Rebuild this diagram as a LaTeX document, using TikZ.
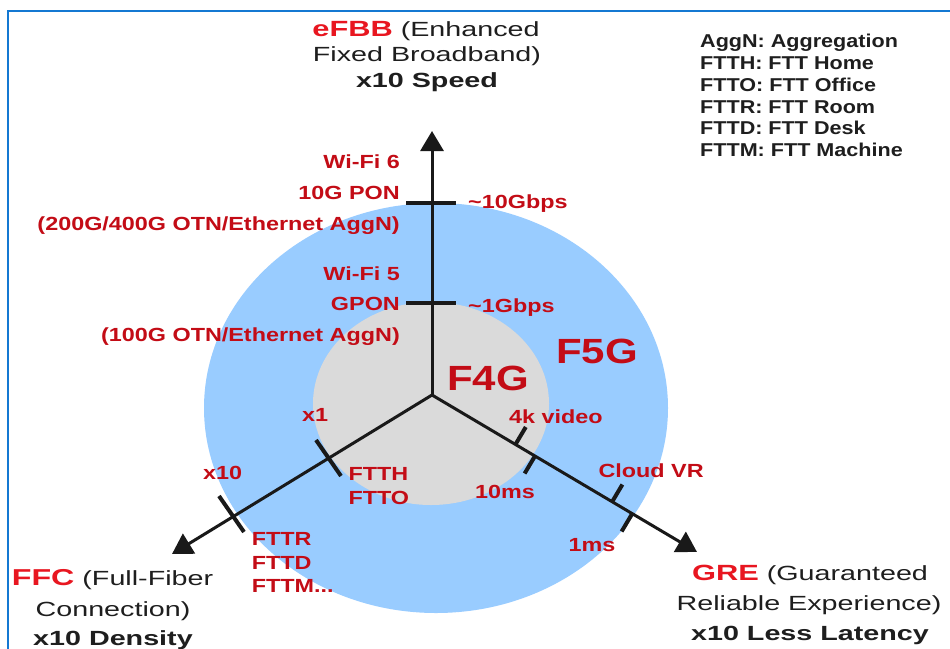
\documentclass[tikz,border=0pt]{standalone}
\usepackage{fontspec}
\setmainfont{Liberation Sans}
\newfontfamily\lblfont[FakeStretch=1.23]{Liberation Sans}
\newfontfamily\ttlfont[FakeStretch=1.4]{Liberation Sans}
\newfontfamily\legfont[FakeStretch=1.16]{Liberation Sans}
\newfontfamily\bigfont[FakeStretch=1.2]{Liberation Sans}
\usetikzlibrary{arrows.meta}
\definecolor{labelred}{RGB}{195,12,22}
\definecolor{brightred}{RGB}{232,22,32}
\definecolor{ringblue}{RGB}{153,204,255}
\definecolor{coregrey}{RGB}{218,218,218}
\definecolor{framebl}{RGB}{20,120,210}
\definecolor{axisc}{RGB}{25,25,25}
\definecolor{txt}{RGB}{30,30,30}
\tikzset{
  lbl/.style={font=\lblfont\bfseries\fontsize{19}{22}\selectfont, text=labelred, inner sep=0pt},
  big/.style={font=\bigfont\bfseries\fontsize{35}{40}\selectfont, text=labelred, inner sep=0pt},
  ttl/.style={font=\ttlfont\fontsize{20.5}{24}\selectfont, text=txt, inner sep=0pt},
  leg/.style={font=\legfont\bfseries\fontsize{18.6}{22}\selectfont, text=txt, inner sep=0pt},
  arm/.style={draw=axisc, line width=3pt, -{Triangle[width=23pt,length=20pt]}},
  tick/.style={draw=axisc, line width=4pt},
}
\begin{document}
\begin{tikzpicture}[x=1pt,y=-1pt]
\useasboundingbox (0,0) rectangle (950,648);
\clip (0,0) rectangle (950,648);
\fill[white] (0,0) rectangle (950,648);
\draw[framebl, line width=2.5pt] (8,11) rectangle (990,690);
% rings
\fill[ringblue] (436,408) ellipse [x radius=232, y radius=205];
\fill[coregrey] (431,403.5) ellipse [x radius=118, y radius=101.5];
% axes
\coordinate (O) at (432,395);
\coordinate (Ttop) at (432,131);
\coordinate (Tl) at (172,554);
\coordinate (Tr) at (697,552);
\draw[arm] (O) -- (Ttop);
\draw[arm] (O) -- (Tl);
\draw[arm] (O) -- (Tr);
% ticks top
\coordinate (a1) at (406,203); \coordinate (a2) at (456,203);
\coordinate (b1) at (406,303); \coordinate (b2) at (456,303);
\draw[tick] (a1) -- (a2);
\draw[tick] (b1) -- (b2);
% ticks left
\coordinate (c1) at (316,440); \coordinate (c2) at (341,476);
\coordinate (d1) at (219,496); \coordinate (d2) at (244,532);
\draw[tick] (c1) -- (c2);
\draw[tick] (d1) -- (d2);
% ticks right (half)
\coordinate (e1) at (515.4,444.5); \coordinate (e2) at (525.8,427);
\coordinate (f1) at (535,456); \coordinate (f2) at (524.6,473.5);
\coordinate (g1) at (612,502); \coordinate (g2) at (622.4,484.5);
\coordinate (h1) at (632,514); \coordinate (h2) at (621.6,531.5);
\draw[tick] (e1) -- (e2);
\draw[tick] (f1) -- (f2);
\draw[tick] (g1) -- (g2);
\draw[tick] (h1) -- (h2);
% top-left labels
\node[lbl, anchor=base east] (wf6) at (400,168.3) {Wi-Fi 6};
\node[lbl, anchor=base east] (pon10) at (400,199.3) {10G PON};
\node[lbl, anchor=base east] (otn4) at (400,230.7) {(200G/400G OTN/Ethernet AggN)};
\node[lbl, anchor=base east] (wf5) at (400,280) {Wi-Fi 5};
\node[lbl, anchor=base east] (gpon) at (400,310) {GPON};
\node[lbl, anchor=base east] (otn1) at (400,341.7) {(100G OTN/Ethernet AggN)};
\node[lbl, anchor=base west] (g10) at (468,208.3) {\textasciitilde10Gbps};
\node[lbl, anchor=base west] (g1) at (468,312.7) {\textasciitilde1Gbps};
% big
\node[big, anchor=base west] (f5g) at (556,363.3) {F5G};
\node[big, anchor=base west] (f4g) at (447,390.5) {F4G};
% left arm labels
\node[lbl, anchor=base west] (x1) at (302,421.7) {x1};
\node[lbl, anchor=base west] (ftth) at (348.3,480) {FTTH};
\node[lbl, anchor=base west] (ftto) at (348.3,504) {FTTO};
\node[lbl, anchor=base west] (x10) at (203,479) {x10};
\node[lbl, anchor=base west] (fttr) at (251.7,545) {FTTR};
\node[lbl, anchor=base west] (fttd) at (251.7,569.3) {FTTD};
\node[lbl, anchor=base west] (fttm) at (251.7,592.7) {FTTM...};
% right arm labels
\node[lbl, anchor=base west] (k4) at (509,423.3) {4k video};
\node[lbl, anchor=base west] (ms10) at (475,498.3) {10ms};
\node[lbl, anchor=base west] (cvr) at (598.3,477.3) {Cloud VR};
\node[lbl, anchor=base west] (ms1) at (568.3,551.7) {1ms};
% titles
\node[ttl, anchor=base] (t1) at (426,36.5) {\textcolor{brightred}{\fontsize{22}{26}\selectfont\bfseries eFBB} (Enhanced};
\node[ttl, anchor=base] (t2) at (427,61.5) {Fixed Broadband)};
\node[ttl, anchor=base] (t3) at (427,87) {\bfseries x10 Speed};
\node[ttl, anchor=base] (l1) at (112.5,585) {\textcolor{brightred}{\fontsize{23}{26}\selectfont\bfseries FFC} (Full-Fiber};
\node[ttl, anchor=base] (l2) at (113,616) {Connection)};
\node[ttl, anchor=base] (l3) at (113,645) {\bfseries x10 Density};
\node[ttl, anchor=base] (r1) at (810,580) {\textcolor{brightred}{\fontsize{22}{26}\selectfont\bfseries GRE} (Guaranteed};
\node[ttl, anchor=base] (r2) at (809,610) {Reliable Experience)};
\node[ttl, anchor=base] (r3) at (810,640) {\bfseries x10 Less Latency};
% legend
\node[leg, anchor=base west] (lg1) at (700,47.7) {AggN: Aggregation};
\node[leg, anchor=base west] (lg2) at (700,69.4) {FTTH: FTT Home};
\node[leg, anchor=base west] (lg3) at (700,91.2) {FTTO: FTT Office};
\node[leg, anchor=base west] (lg4) at (700,113) {FTTR: FTT Room};
\node[leg, anchor=base west] (lg5) at (700,134.8) {FTTD: FTT Desk};
\node[leg, anchor=base west] (lg6) at (700,156.6) {FTTM: FTT Machine};
\end{tikzpicture}
\end{document}
